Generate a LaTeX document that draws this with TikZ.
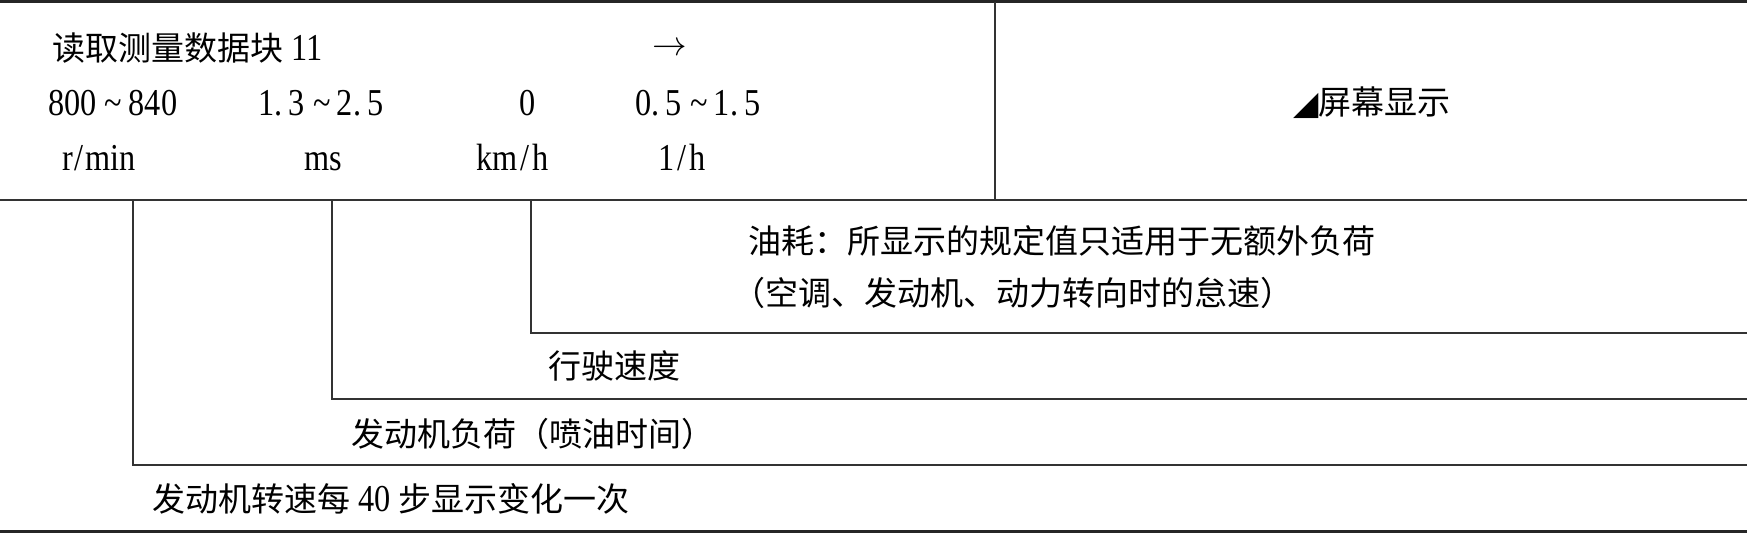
\documentclass[tikz,border=0pt]{standalone}
\usepackage{fontspec}
\setmainfont{Liberation Serif}[FakeStretch=0.85]
\newfontfamily\cjk{Noto Sans CJK SC}
\newfontfamily\trifont{DejaVu Sans}
\usetikzlibrary{arrows.meta}

\begin{document}
\begin{tikzpicture}[x=0.5pt, y=-0.5pt,
  rule/.style={draw=black!85, line width=1.5pt},
  thin/.style={draw=black!80, line width=0.7pt},
  zh/.style={inner sep=0pt, anchor=west, font=\cjk\fontsize{16.5}{20}\selectfont},
  num/.style={inner sep=0pt, anchor=base west, font=\fontsize{19}{23}\selectfont}]
\useasboundingbox (0,0) rectangle (1747,534);
% header
\node[zh] (title) at (52, 48) {读取测量数据块{\rmfamily\fontsize{19}{23}\selectfont\ 11}};
\node[num, anchor=center] (arrow) at (670, 49) {$\rightarrow$};
\node[num] (rpmval) at (48, 116) {800 \textasciitilde\,840};
\node[num] (loadval) at (258, 116) {1.\,3 \textasciitilde\,2.\,5};
\node[num] (speedval) at (519, 116) {0};
\node[num] (fuelval) at (635, 116) {0.\,5 \textasciitilde\,1.\,5};
\node[num] (rpmunit) at (62, 171) {r\kern0.8pt/\kern0.8pt min};
\node[num] (loadunit) at (304, 171) {ms};
\node[num] (speedunit) at (476, 171) {km\kern1.5pt/\kern1.5pt h};
\node[num] (fuelunit) at (658, 171) {1\kern1.5pt/\kern1.5pt h};
\node[zh] (screen) at (1293, 103) {{\trifont ◢}屏幕显示};
% notes
\node[zh] (fuelnote) at (748, 241) {油耗：所显示的规定值只适用于无额外负荷};
\node[zh] (fuelnote2) at (732, 293) {（空调、发动机、动力转向时的怠速）};
\node[zh] (speednote) at (548, 366) {行驶速度};
\node[zh] (loadnote) at (351, 434) {发动机负荷（喷油时间）};
\node[zh] (rpmnote) at (152, 499) {发动机转速每{\rmfamily\fontsize{19}{23}\selectfont\ 40\ }步显示变化一次};
% lines
\coordinate (topL) at (0, 2);
\coordinate (topR) at (1747, 2);
\coordinate (botL) at (0, 531);
\coordinate (botR) at (1747, 531);
\coordinate (headL) at (0, 200);
\coordinate (headR) at (1747, 200);
\coordinate (divT) at (995, 2);
\coordinate (divB) at (995, 200);
\coordinate (rpmT) at (133, 200);
\coordinate (rpmC) at (133, 465);
\coordinate (rpmE) at (1747, 465);
\coordinate (loadT) at (332, 200);
\coordinate (loadC) at (332, 399);
\coordinate (loadE) at (1747, 399);
\coordinate (fuelT) at (531, 200);
\coordinate (fuelC) at (531, 333);
\coordinate (fuelE) at (1747, 333);
\draw [rule] (topL) -- (topR) ;
\draw [rule] (botL) -- (botR) ;
\draw [thin] (headL) -- (headR) ;
\draw [thin] (divT) -- (divB) ;
\draw [thin] (rpmT) -- (rpmC) -- (rpmE) ;
\draw [thin] (loadT) -- (loadC) -- (loadE) ;
\draw [thin] (fuelT) -- (fuelC) -- (fuelE) ;
\end{tikzpicture}
\end{document}
